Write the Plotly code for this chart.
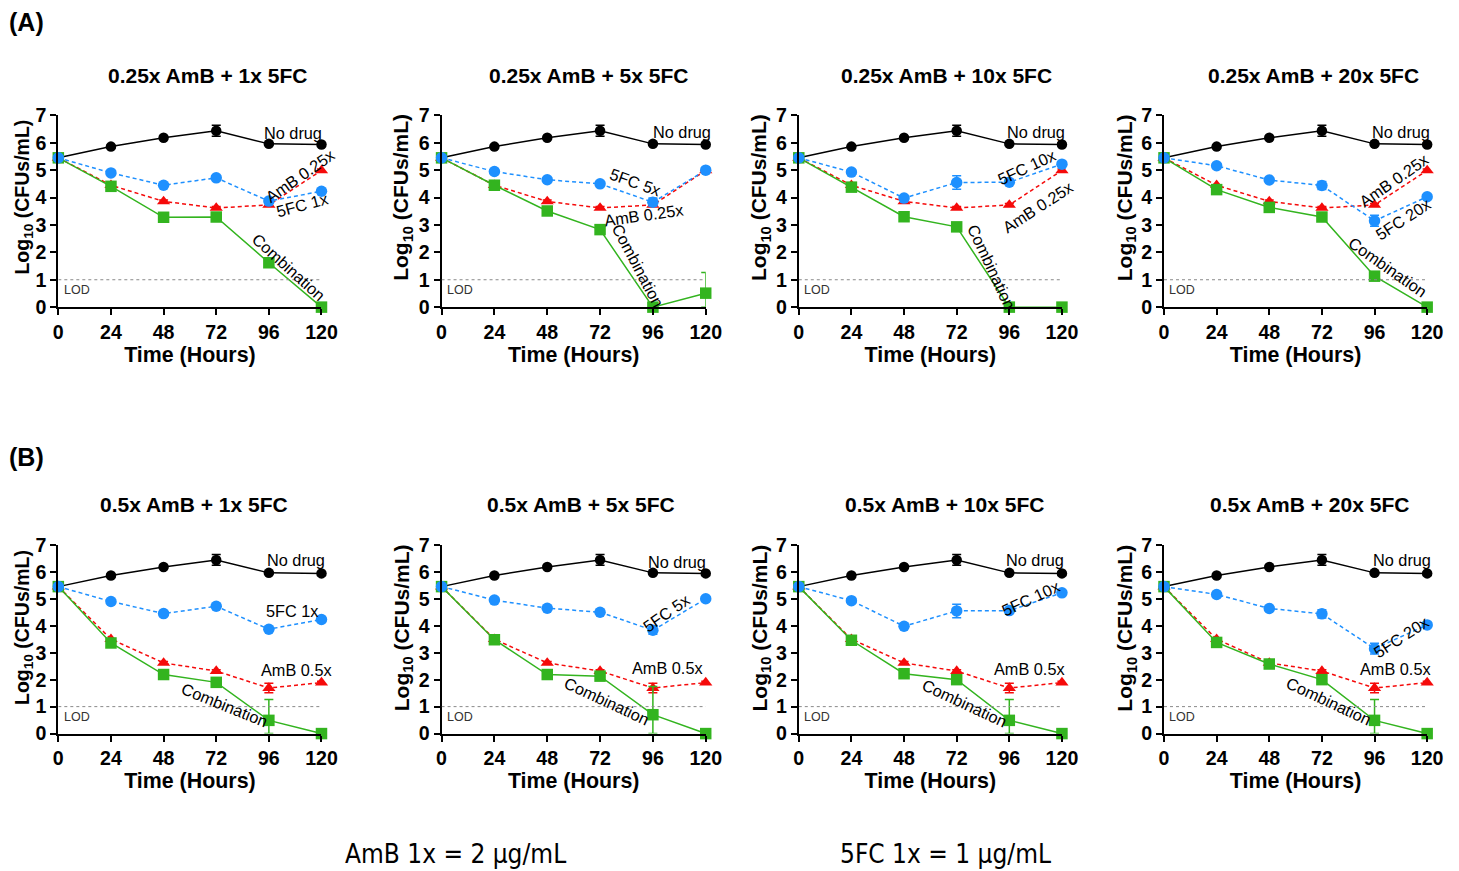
import plotly.graph_objects as go

W, H = 1459, 871
# measured mapping between figure pixels and the photographed window
SX, SY = 0.985, 0.976
OX, OY = 12.7, 18.5

hours = [0, 24, 48, 72, 96, 120]
x_ticks = [0, 24, 48, 72, 96, 120]
y_ticks = [0, 1, 2, 3, 4, 5, 6, 7]

# controls (shared within each row)
no_drug = [5.45, 5.86, 6.18, 6.44, 5.96, 5.94]
no_drug_err = [0, 0.05, 0.05, 0.2, 0.05, 0.05]
amb_025 = [5.45, 4.45, 3.86, 3.62, 3.73, 4.99]
amb_025_err = [0, 0, 0.05, 0.05, 0.05, 0.05]
amb_05 = [5.45, 3.50, 2.62, 2.32, 1.69, 1.89]
amb_05_err = [0, 0, 0.05, 0.05, 0.18, 0.05]

fc_1x = [5.45, 4.90, 4.45, 4.72, 3.87, 4.23]
fc_1x_err = [0, 0.04, 0.04, 0.04, 0.05, 0.04]
fc_5x = [5.45, 4.95, 4.65, 4.50, 3.83, 5.00]
fc_5x_err = [0, 0.04, 0.04, 0.04, 0.15, 0.04]
fc_10x = [5.45, 4.93, 3.98, 4.55, 4.56, 5.22]
fc_10x_err = [0, 0.04, 0.05, 0.25, 0.05, 0.04]
fc_20x = [5.45, 5.16, 4.64, 4.44, 3.15, 4.03]
fc_20x_err = [0, 0.04, 0.04, 0.15, 0.2, 0.04]

comb_A1 = [5.45, 4.41, 3.28, 3.29, 1.62, 0.0]
comb_A2 = [5.45, 4.45, 3.51, 2.83, 0.0, 0.51]
comb_A3 = [5.45, 4.38, 3.30, 2.93, 0.0, 0.0]
comb_A4 = [5.45, 4.29, 3.64, 3.29, 1.13, 0.0]
comb_B1 = [5.45, 3.36, 2.19, 1.90, 0.49, 0.0]
comb_B2 = [5.45, 3.48, 2.19, 2.13, 0.70, 0.0]
comb_B3 = [5.45, 3.46, 2.22, 2.00, 0.49, 0.0]
comb_B4 = [5.45, 3.38, 2.58, 2.00, 0.49, 0.0]

comb_A1_up = [0, 0.05, 0.05, 0.05, 0.1, 0]
comb_A2_up = [0, 0.05, 0.05, 0.1, 0, 0.75]
comb_A3_up = [0, 0.05, 0.05, 0.05, 0, 0]
comb_A4_up = [0, 0.05, 0.05, 0.05, 0.15, 0]
comb_B1_up = [0, 0.05, 0.05, 0.1, 0.77, 0]
comb_B2_up = [0, 0.05, 0.05, 0.05, 1.05, 0]
comb_B3_up = [0, 0.05, 0.05, 0.05, 0.77, 0]
comb_B4_up = [0, 0.05, 0.05, 0.05, 0.77, 0]

titles = ["0.25x AmB + 1x 5FC", "0.25x AmB + 5x 5FC", "0.25x AmB + 10x 5FC", "0.25x AmB + 20x 5FC",
          "0.5x AmB + 1x 5FC", "0.5x AmB + 5x 5FC", "0.5x AmB + 10x 5FC", "0.5x AmB + 20x 5FC"]
title_cx = [207, 588, 946, 1312, 194, 580, 944, 1308]
y_title = "Log<sub>10</sub> (CFUs/mL)"
x_title = "Time (Hours)"

# label text, x, y, angle
labels_A1 = [("No drug", 107, 6.36, 0), ("AmB 0.25x", 110, 4.8, -35), ("5FC 1x", 111, 3.72, -15), ("Combination", 105, 1.46, 42)]
labels_A2 = [("No drug", 109, 6.39, 0), ("5FC 5x", 88, 4.57, 20), ("AmB 0.25x", 92, 3.35, -8), ("Combination", 89, 1.52, 62)]
labels_A3 = [("No drug", 108, 6.39, 0), ("5FC 10x", 104, 5.1, -25), ("AmB 0.25x", 109, 3.65, -33), ("Combination", 88, 1.47, 65)]
labels_A4 = [("No drug", 108, 6.39, 0), ("AmB 0.25x", 105, 4.63, -35), ("5FC 20x", 109, 3.23, -33), ("Combination", 102, 1.46, 35)]
labels_B1 = [("No drug", 108.5, 6.42, 0), ("5FC 1x", 106.5, 4.53, 0), ("AmB 0.5x", 108.5, 2.37, 0), ("Combination", 76, 1.07, 22)]
labels_B2 = [("No drug", 107, 6.38, 0), ("5FC 5x", 102, 4.47, -35), ("AmB 0.5x", 102.5, 2.43, 0), ("Combination", 75, 1.2, 25)]
labels_B3 = [("No drug", 107.5, 6.44, 0), ("5FC 10x", 106, 5.02, -25), ("AmB 0.5x", 105, 2.4, 0), ("Combination", 75.5, 1.14, 25)]
labels_B4 = [("No drug", 108.5, 6.42, 0), ("5FC 20x", 108, 3.6, -33), ("AmB 0.5x", 105.5, 2.4, 0), ("Combination", 75, 1.2, 25)]

panels = [
    (no_drug, amb_025, amb_025_err, fc_1x, fc_1x_err, comb_A1, comb_A1_up, labels_A1),
    (no_drug, amb_025, amb_025_err, fc_5x, fc_5x_err, comb_A2, comb_A2_up, labels_A2),
    (no_drug, amb_025, amb_025_err, fc_10x, fc_10x_err, comb_A3, comb_A3_up, labels_A3),
    (no_drug, amb_025, amb_025_err, fc_20x, fc_20x_err, comb_A4, comb_A4_up, labels_A4),
    (no_drug, amb_05, amb_05_err, fc_1x, fc_1x_err, comb_B1, comb_B1_up, labels_B1),
    (no_drug, amb_05, amb_05_err, fc_5x, fc_5x_err, comb_B2, comb_B2_up, labels_B2),
    (no_drug, amb_05, amb_05_err, fc_10x, fc_10x_err, comb_B3, comb_B3_up, labels_B3),
    (no_drug, amb_05, amb_05_err, fc_20x, fc_20x_err, comb_B4, comb_B4_up, labels_B4),
]

# target window-pixel geometry of plot areas
col_px = [(58, 321), (441, 705), (798, 1061), (1163, 1426)]
row_px = [(115, 307), (545, 734)]
ytitle_cy = [197, 628]
ytitle_cx = [23, 402, 760, 1125]
ytitle_size = [19.5, 21, 21, 21]


def px(X):
    return ((X - OX) / SX) / W


def py(Y):
    return 1 - ((Y - OY) / SY) / H


FONT = "Liberation Sans, Arial, sans-serif"
NARROW = "Liberation Sans Narrow, DejaVu Sans Condensed, Arial Narrow, sans-serif"
BLACK = "#000000"
BLUE = "#1e90ff"
RED = "#f50a0a"
GREEN = "#33b41f"

fig = go.Figure()
layout = dict(
    width=W, height=H, margin=dict(l=0, r=0, t=0, b=0),
    paper_bgcolor="white", plot_bgcolor="white", showlegend=False,
    font=dict(family=FONT, color="black"),
)
annotations = []
shapes = []

for i, (nd, amb, amb_err, fc, fc_err, comb, comb_up, labels) in enumerate(panels):
    r, c = divmod(i, 4)
    x0p, x1p = col_px[c]
    ytp, ybp = row_px[r]
    n = i + 1
    xa = "x" if n == 1 else f"x{n}"
    ya = "y" if n == 1 else f"y{n}"
    xkey = "xaxis" if n == 1 else f"xaxis{n}"
    ykey = "yaxis" if n == 1 else f"yaxis{n}"

    layout[xkey] = dict(
        domain=[px(x0p), px(x1p)], anchor=ya, range=[0, 120], tickvals=x_ticks,
        showgrid=False, zeroline=False, showline=True, linecolor="black", linewidth=2,
        ticks="outside", ticklen=6, tickwidth=2, tickcolor="black",
        tickfont=dict(size=19.6, family=FONT, weight="bold"),
        title=dict(text=x_title, font=dict(size=21.4, family=FONT, weight="bold"), standoff=5),
    )
    layout[ykey] = dict(
        domain=[py(ybp), py(ytp)], anchor=xa, range=[0, 7], tickvals=y_ticks,
        showgrid=False, zeroline=False, showline=True, linecolor="black", linewidth=2,
        ticks="outside", ticklen=6, tickwidth=2, tickcolor="black",
        tickfont=dict(size=19.6, family=FONT, weight="bold"),
    )
    # y-axis title (placed slightly above the plot centre, as in the original)
    annotations.append(dict(text=y_title, xref="paper", yref="paper", x=px(ytitle_cx[c]), y=py(ytitle_cy[r]),
                            xanchor="center", yanchor="middle", textangle=-90, showarrow=False,
                            font=dict(size=ytitle_size[c], family=FONT, weight="bold")))

    # LOD line
    shapes.append(dict(type="line", xref=xa, yref=ya, x0=0, x1=120, y0=1, y1=1,
                       line=dict(color="#8a8a8a", width=1, dash="dot")))
    annotations.append(dict(text="LOD", xref=xa, yref=ya, x=1.5, y=0.62, xanchor="left", yanchor="middle",
                            showarrow=False, font=dict(size=12.5, family=FONT, color="#333")))

    # series
    fig.add_trace(go.Scatter(x=hours, y=nd, xaxis=xa, yaxis=ya, mode="lines+markers", cliponaxis=False,
                             line=dict(color=BLACK, width=1.5),
                             marker=dict(symbol="circle", size=10.5, color=BLACK),
                             error_y=dict(type="data", array=no_drug_err, color=BLACK, thickness=1.5, width=4.5)))
    fig.add_trace(go.Scatter(x=hours, y=amb, xaxis=xa, yaxis=ya, mode="lines+markers", cliponaxis=False,
                             line=dict(color=RED, width=1.5, dash="4px,3px"),
                             marker=dict(symbol="triangle-up", size=11.5, color=RED),
                             error_y=dict(type="data", array=amb_err, color=RED, thickness=1.5, width=4.5)))
    fig.add_trace(go.Scatter(x=hours, y=comb, xaxis=xa, yaxis=ya, mode="lines+markers", cliponaxis=False,
                             line=dict(color=GREEN, width=1.5),
                             marker=dict(symbol="square", size=11.5, color=GREEN),
                             error_y=dict(type="data", array=comb_up,
                                          arrayminus=[min(u, v) for u, v in zip(comb_up, comb)],
                                          color=GREEN, thickness=1.5, width=4.5)))
    fig.add_trace(go.Scatter(x=hours, y=fc, xaxis=xa, yaxis=ya, mode="lines+markers", cliponaxis=False,
                             line=dict(color=BLUE, width=1.5, dash="4px,3px"),
                             marker=dict(symbol="circle", size=11.5, color=BLUE),
                             error_y=dict(type="data", array=fc_err, color=BLUE, thickness=1.5, width=4.5)))

    for (txt, lx, ly, ang) in labels:
        annotations.append(dict(text=txt, xref=xa, yref=ya, x=lx, y=ly, showarrow=False, textangle=ang,
                                xanchor="center", yanchor="middle",
                                font=dict(size=16.3, family=FONT, color="black")))

    # panel title
    annotations.append(dict(text=titles[i], xref="paper", yref="paper",
                            x=px(title_cx[i]), y=py(ytp - 40),
                            xanchor="center", yanchor="middle", showarrow=False,
                            font=dict(size=21, family=FONT, weight="bold")))

annotations.append(dict(text="(A)", xref="paper", yref="paper", x=px(26), y=py(22), xanchor="center",
                        yanchor="middle", showarrow=False, font=dict(size=25, family=FONT, weight="bold")))
annotations.append(dict(text="(B)", xref="paper", yref="paper", x=px(26), y=py(457), xanchor="center",
                        yanchor="middle", showarrow=False, font=dict(size=25, family=FONT, weight="bold")))
annotations.append(dict(text="AmB 1x = 2 μg/mL", xref="paper", yref="paper", x=px(455), y=py(855),
                        xanchor="center", yanchor="middle", showarrow=False, font=dict(size=26, family=NARROW)))
annotations.append(dict(text="5FC 1x = 1 μg/mL", xref="paper", yref="paper", x=px(945), y=py(855),
                        xanchor="center", yanchor="middle", showarrow=False, font=dict(size=26, family=NARROW)))

layout["annotations"] = annotations
layout["shapes"] = shapes
fig.update_layout(**layout)
fig.write_html("out.html")
